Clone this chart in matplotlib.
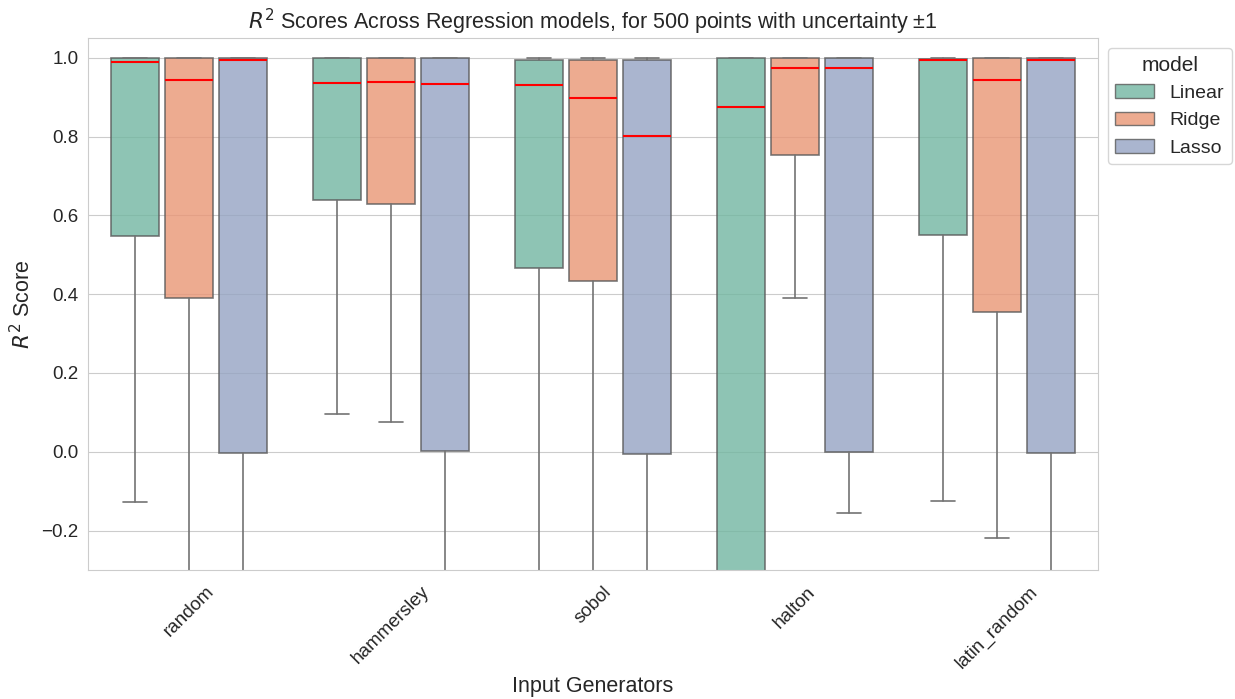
import numpy as np
import matplotlib
matplotlib.use("Agg")
import matplotlib.pyplot as plt
import matplotlib.patches as mpatches
import seaborn as sns

# box statistics (values below -0.3 are off-axis guesses)
generators = ["random", "hammersley", "sobol", "halton", "latin_random"]
models = ["Linear", "Ridge", "Lasso"]

# rows = generators, columns = models
q1 = [[0.548, 0.391, -0.002],
      [0.640, 0.629, 0.001],
      [0.467, 0.434, -0.005],
      [-0.60, 0.754, 0.000],
      [0.551, 0.355, -0.002]]
med = [[0.990, 0.944, 0.993],
       [0.937, 0.939, 0.934],
       [0.932, 0.898, 0.802],
       [0.875, 0.975, 0.975],
       [0.995, 0.944, 0.995]]
q3 = [[1.000, 1.000, 1.000],
      [1.000, 1.000, 1.000],
      [0.993, 0.993, 0.993],
      [1.000, 1.000, 1.000],
      [0.997, 1.000, 1.000]]
whislo = [[-0.127, -0.95, -1.50],
          [0.096, 0.076, -1.50],
          [-0.70, -0.75, -1.50],
          [-2.50, 0.390, -0.155],
          [-0.124, -0.218, -1.50]]
whishi = [[1.0, 1.0, 1.0],
          [1.0, 1.0, 1.0],
          [1.0, 1.0, 1.0],
          [1.0, 1.0, 1.0],
          [1.0, 1.0, 1.0]]

sns.set_style("whitegrid")
plt.rcParams['font.family'] = ['Liberation Sans', 'DejaVu Sans']

pal = [sns.desaturate(c, 0.75) for c in sns.color_palette("Set2", 3)]
edge = "0.35"

fig, ax = plt.subplots(figsize=(12.35, 6.99), dpi=100)
fig.subplots_adjust(left=0.0713, right=0.889, top=0.9456, bottom=0.1845)

slot = 0.8 / 3
for j, m in enumerate(models):
    stats = []
    for i in range(len(generators)):
        stats.append(dict(q1=q1[i][j], med=med[i][j], q3=q3[i][j],
                          whislo=whislo[i][j], whishi=whishi[i][j], fliers=[]))
    pos = [i + (j - 1) * slot for i in range(len(generators))]
    ax.bxp(stats, positions=pos, widths=slot * 0.9, patch_artist=True,
           showfliers=False, manage_ticks=False,
           boxprops=dict(facecolor=pal[j], edgecolor=edge, alpha=0.8, linewidth=1.2),
           whiskerprops=dict(color="0.45", linewidth=1.2),
           capprops=dict(color="0.45", linewidth=1.2),
           medianprops=dict(color="red", linewidth=1.5))

ax.set_xlim(-0.5, len(generators) - 0.5)
ax.set_ylim(-0.3, 1.05)
ax.set_xticks(range(len(generators)))
ax.set_xticklabels(generators, rotation=45, fontsize=13.5)
ax.tick_params(axis="x", pad=6)
ax.tick_params(axis="y", labelsize=13.5)
ax.xaxis.grid(False)
ax.set_xlabel("Input Generators", fontsize=15.5, labelpad=3)
ax.set_ylabel("$R^2$ Score", fontsize=15.5)
ax.set_title("$R^2$ Scores Across Regression models, for 500 points with uncertainty \u00b11",
             fontsize=15.5)

handles = [mpatches.Patch(facecolor=pal[j], edgecolor=edge, alpha=0.8, label=m)
           for j, m in enumerate(models)]
ax.legend(handles=handles, title="model", loc="upper left", bbox_to_anchor=(1, 1),
          fontsize=14, title_fontsize=15)

plt.savefig("out.png")
